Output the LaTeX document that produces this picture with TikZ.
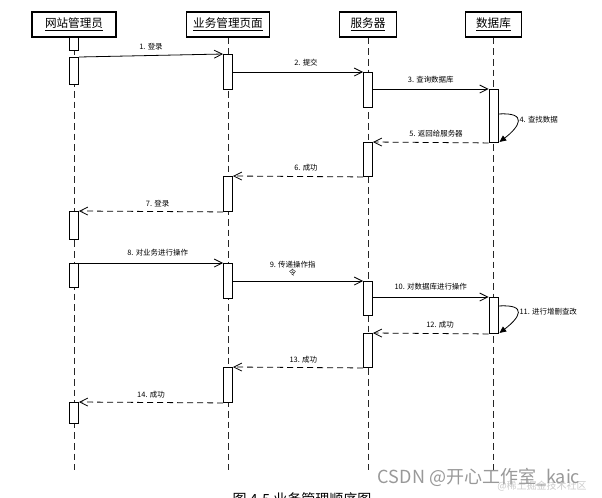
\documentclass[tikz,border=0pt]{standalone}
\usepackage{fontspec}
\setmainfont{Noto Sans CJK SC}
\usetikzlibrary{positioning,arrows.meta,calc}
\tikzset{
  head/.style={draw, fill=white, line width=0.8pt, font=\fontsize{8.7}{10}\selectfont, minimum height=18.75pt, inner sep=1pt},
  act/.style={draw, fill=white, line width=0.7pt, anchor=north, minimum width=6.75pt, minimum height=#1*0.75pt, inner sep=0pt},
  life/.style={dash pattern=on 5pt off 3pt, line width=0.7pt, black!85},
  msg/.style={-{Straight Barb[length=6pt,width=6pt]}, line width=0.6pt},
  ret/.style={msg, dash pattern=on 4.5pt off 3pt},
  selfmsg/.style={-{Triangle[length=5pt,width=4.5pt]}, line width=0.6pt},
  lbl/.style={font=\fontsize{5.6}{6.5}\selectfont, inner sep=1pt},
}
\begin{document}
\begin{tikzpicture}[x=0.75pt, y=-0.75pt]
\useasboundingbox (0,0) rectangle (602,497);
% lifeline heads
\node[head, minimum width=63pt] (adm) at (74,24.5) {\underline{网站管理员}};
\node[head, minimum width=62pt] (page) at (228,24.5) {\underline{业务管理页面}};
\node[head, minimum width=43pt] (srv) at (368,24.5) {\underline{服务器}};
\node[head, minimum width=42pt] (db) at (493.5,24.5) {\underline{数据库}};
\coordinate (bot) at (0,470);
\draw[life] (adm) -- (adm |- bot);
\draw[life] (page) -- (page |- bot);
\draw[life] (srv) -- (srv |- bot);
\draw[life] (db) -- (db |- bot);
% activation bars
\node[act=13] (a1) at (74,37) {};
\node[act=27] (a2) at (74,57) {};
\node[act=28] (a3) at (74,211) {};
\node[act=24] (a4) at (74,263) {};
\node[act=21] (a5) at (74,402) {};
\node[act=35] (p1) at (228,54) {};
\node[act=35] (p2) at (228,176) {};
\node[act=35] (p3) at (228,263) {};
\node[act=35] (p4) at (228,367) {};
\node[act=35] (s1) at (368,72) {};
\node[act=34] (s2) at (368,142) {};
\node[act=34] (s3) at (368,281) {};
\node[act=34] (s4) at (368,333) {};
\node[act=53] (d1) at (493.5,89) {};
\node[act=36] (d2) at (493.5,297) {};
% messages
\draw[msg] (a2.north east) -- node[lbl, above=3pt] {1. 登录} (p1.north west);
\draw[msg] (p1.east |- s1.north) -- node[lbl, above=3pt, xshift=6pt] {2. 提交} (s1.north west);
\draw[msg] (s1.east |- d1.north) -- node[lbl, above=3pt] {3. 查询数据库} (d1.north west);
\draw[selfmsg] ($(d1.north east)+(0,25)$) .. controls +(30,-2) and +(20,-15) .. node[lbl, right, pos=0.45] {4. 查找数据} ($(d1.south east)+(1,-1)$);
\draw[ret] (d1.south west) -- node[lbl, above=3pt, xshift=4pt] {5. 返回给服务器} (s2.north east);
\draw[ret] (s2.south west) -- node[lbl, above=3pt, xshift=6pt] {6. 成功} (p2.north east);
\draw[ret] (p2.south west) -- node[lbl, above=2pt, xshift=5pt] {7. 登录} (a3.north east);
\draw[msg] (a4.north east) -- node[lbl, above=4pt, xshift=5pt] {8. 对业务进行操作} (p3.north west);
\draw[msg] (p3.east |- s3.north) -- node[lbl, above=2pt, align=center, xshift=-4pt] {9. 传递操作指\\令} (s3.north west);
\draw[msg] (s3.east |- d2.north) -- node[lbl, above=4pt] {10. 对数据库进行操作} (d2.north west);
\draw[selfmsg] ($(d2.north east)+(0,9)$) .. controls +(30,-2) and +(20,-15) .. node[lbl, right, pos=0.45] {11. 进行增删查改} ($(d2.south east)+(1,-1)$);
\draw[ret] (d2.south west) -- node[lbl, above=3pt, xshift=7pt] {12. 成功} (s4.north east);
\draw[ret] (s4.south west) -- node[lbl, above=2pt, xshift=4pt] {13. 成功} (p4.north east);
\draw[ret] (p4.south west) -- node[lbl, above=2pt] {14. 成功} (a5.north east);
% caption and watermark
\node[font=\fontsize{10.5}{12}\selectfont] (cap) at (302,499) {图 4-5 业务管理顺序图};
\node[font=\fontsize{7.5}{9}\selectfont, text=black!20] (wm2) at (542,486) {@稀土掘金技术社区};
\node[font=\fontsize{13.5}{15}\selectfont, text=black!40] (wm) at (479,477) {CSDN @开心工作室\_kaic};
\end{tikzpicture}
\end{document}
